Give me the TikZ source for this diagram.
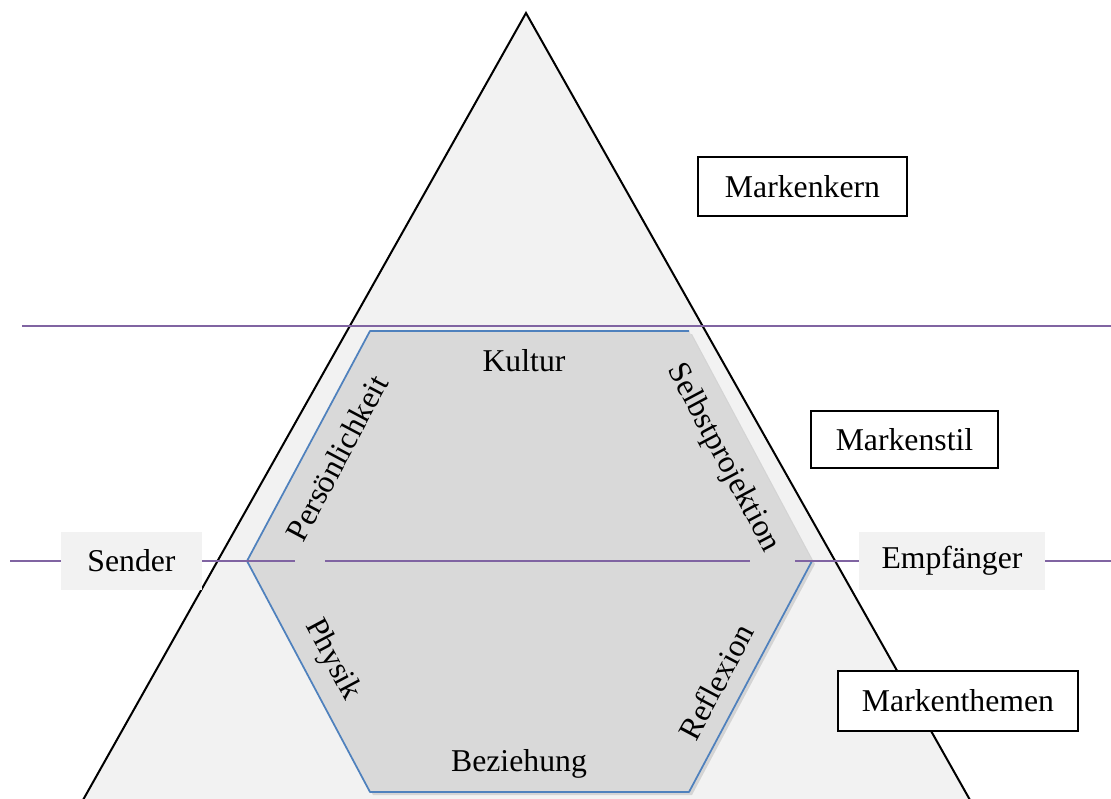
\documentclass[tikz,border=0pt]{standalone}
\usepackage{fontspec}
\setmainfont{Liberation Serif}
\usetikzlibrary{calc}
\definecolor{pyramidgray}{HTML}{F2F2F2}
\definecolor{hexgray}{HTML}{D9D9D9}
\definecolor{hexblue}{HTML}{4F81BD}
\definecolor{levelline}{HTML}{8064A2}
\tikzset{
  lbl/.style={font=\fontsize{23.8}{28}\selectfont,inner sep=0pt},
  levelbox/.style={lbl,draw=black,line width=1pt,fill=white},
  partybox/.style={lbl,fill=pyramidgray,minimum height=43.5pt},
  levelsep/.style={draw=levelline,line width=1.4pt},
  pyramidedge/.style={line width=1.5pt,line join=miter},
  hexedge/.style={draw=hexblue,line width=1.3pt,line join=round}
}

\begin{document}
\begin{tikzpicture}[x=0.75pt,y=-0.75pt]
    \useasboundingbox (0,0) rectangle (1111,799);
    \clip (0,0) rectangle (1111,799);
    % pyramid
    \fill[pyramidgray] (83,800)--(526,13)--(970,800)--cycle;
    \draw[pyramidedge] (83,800)--(526,13)--(970,800);
    % upper level border
    \coordinate (topL) at (22,326);
    \coordinate (topR) at (1111,326);
    \draw[levelsep] (topL)--(topR);
    % hexagon of the brand themes
    \coordinate (h1) at (370,331); \coordinate (h2) at (689,331);
    \coordinate (h3) at (812,561); \coordinate (h4) at (689,792);
    \coordinate (h5) at (370,792); \coordinate (h6) at (247,561);
    \fill[black,opacity=0.12] ($(h1)+(3,3)$)--($(h2)+(3,3)$)--($(h3)+(3,3)$)--($(h4)+(3,3)$)--($(h5)+(3,3)$)--($(h6)+(3,3)$)--cycle;
    \fill[hexgray] (h1)--(h2)--(h3)--(h4)--(h5)--(h6)--cycle;
    \draw[hexedge] (h3)--(h4)--(h5)--(h6)--(h1)--(h2);
    % level boxes
    \node[levelbox,minimum width=156.8pt,minimum height=44.3pt] (kern) at (802.5,186.5) {Markenkern};
    \node[levelbox,minimum width=140.3pt,minimum height=42.8pt] (stil) at (904.5,439.5) {Markenstil};
    \node[levelbox,minimum width=180pt,minimum height=45pt] (themen) at (958,701) {Markenthemen};
    \node[partybox,minimum width=105.8pt] (sender) at (131.5,561) {Sender};
    \node[partybox,minimum width=139.5pt] (empf) at (952,561) {Empfänger};
    % middle line, broken at the side labels
    \coordinate (midL) at (10,561);
    \coordinate (midR) at (1111,561);
    \coordinate (gapA) at (295,561); \coordinate (gapB) at (325,561);
    \coordinate (gapC) at (750,561); \coordinate (gapD) at (795,561);
    \draw[levelsep] (midL)--(sender.west);
    \draw[levelsep] (sender.east)--(gapA);
    \draw[levelsep] (gapB)--(gapC);
    \draw[levelsep] (gapD)--(empf.west);
    \draw[levelsep] (empf.east)--(midR);
    % hexagon labels
    \node[lbl] (kultur) at (524,361) {Kultur};
    \node[lbl,rotate=62] (pers) at (337,458) {Persönlichkeit};
    \node[lbl,rotate=-62] (selbst) at (723,458) {Selbstprojektion};
    \node[lbl,rotate=-62] (physik) at (332,660) {Physik};
    \node[lbl,rotate=62] (reflex) at (716,682) {Reflexion};
    \node[lbl] (bez) at (519,764) {Beziehung};
\end{tikzpicture}
\end{document}
